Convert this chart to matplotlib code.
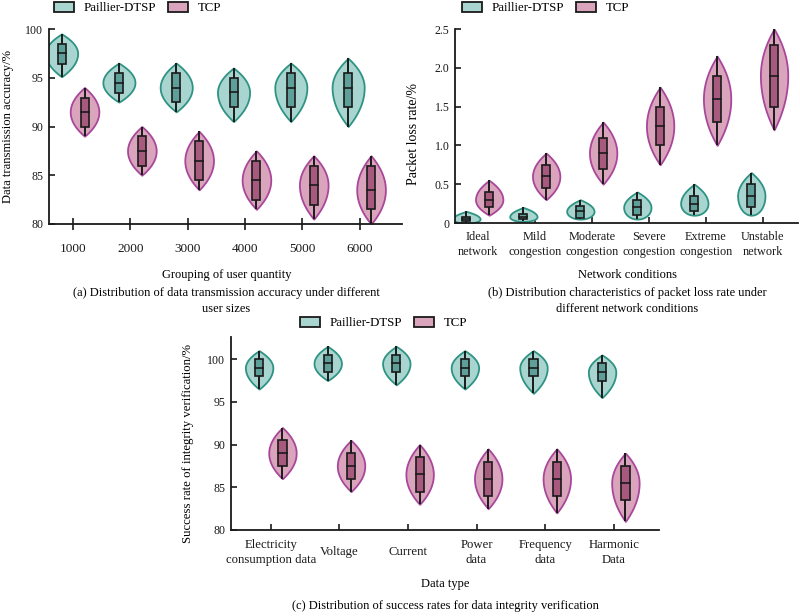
import matplotlib
matplotlib.use("Agg")
import matplotlib.pyplot as plt
import matplotlib.patches as mpatches
import numpy as np

plt.rcParams["font.family"] = ["Liberation Serif", "DejaVu Serif"]
plt.rcParams["font.size"] = 9

# ---------------- data ----------------
# each stat list: [low, q1, median, q3, high]
USERS = ["1000", "2000", "3000", "4000", "5000", "6000"]
A_PAILLIER = [
    [95.1, 96.4, 97.5, 98.5, 99.5],
    [92.5, 93.4, 94.5, 95.5, 96.5],
    [91.5, 92.5, 94.0, 95.5, 96.5],
    [90.5, 92.0, 93.5, 95.0, 96.0],
    [90.5, 92.0, 94.0, 95.5, 96.5],
    [90.0, 92.0, 94.0, 95.5, 97.0],
]
A_TCP = [
    [89.0, 90.0, 91.5, 92.9, 94.0],
    [85.0, 86.0, 87.5, 89.0, 90.0],
    [83.5, 84.5, 86.5, 88.5, 89.5],
    [81.5, 82.5, 84.5, 86.5, 87.5],
    [80.5, 82.0, 84.0, 86.0, 87.0],
    [80.0, 81.5, 83.5, 86.0, 87.0],
]

NETWORK = ["Ideal\nnetwork", "Mild\ncongestion", "Moderate\ncongestion",
           "Severe\ncongestion", "Extreme\ncongestion", "Unstable\nnetwork"]
B_PAILLIER = [
    [0.0, 0.02, 0.05, 0.08, 0.15],
    [0.02, 0.05, 0.08, 0.12, 0.20],
    [0.05, 0.07, 0.15, 0.22, 0.30],
    [0.05, 0.10, 0.20, 0.30, 0.40],
    [0.10, 0.15, 0.25, 0.35, 0.50],
    [0.10, 0.20, 0.35, 0.50, 0.65],
]
B_TCP = [
    [0.10, 0.20, 0.30, 0.40, 0.55],
    [0.30, 0.45, 0.60, 0.75, 0.90],
    [0.50, 0.70, 0.90, 1.10, 1.30],
    [0.75, 1.00, 1.25, 1.50, 1.75],
    [1.00, 1.30, 1.60, 1.90, 2.15],
    [1.20, 1.50, 1.90, 2.30, 2.50],
]

DATA_TYPES = ["Electricity\nconsumption data", "Voltage", "Current",
              "Power\ndata", "Frequency\ndata", "Harmonic\nData"]
C_PAILLIER = [
    [96.5, 98.0, 99.0, 100.0, 101.0],
    [97.5, 98.5, 99.5, 100.5, 101.5],
    [97.0, 98.5, 99.5, 100.5, 101.5],
    [96.5, 98.0, 99.0, 100.0, 101.0],
    [96.0, 98.0, 99.0, 100.0, 101.0],
    [95.5, 97.5, 98.5, 99.5, 100.5],
]
C_TCP = [
    [86.0, 87.5, 89.0, 90.5, 92.0],
    [84.5, 86.0, 87.5, 89.0, 90.5],
    [83.0, 84.5, 86.5, 88.5, 90.0],
    [82.5, 84.0, 86.0, 88.0, 89.5],
    [82.0, 84.0, 86.0, 88.0, 89.5],
    [81.0, 83.5, 85.5, 87.5, 89.0],
]

# ---------------- styles ----------------
P_FILL, P_EDGE, P_BOX = "#a9d5d0", "#2e9383", "#5e9f99"
T_FILL, T_EDGE, T_BOX = "#dba4bd", "#a8479a", "#a85a7e"
INK = "#1a1a1a"
LABEL_FS = 9.0


def violin(ax, x, stats, width, box_w, fill, edge, boxc, round_bottom=False):
    lo, q1, med, q3, hi = stats
    yt = np.linspace(med, hi, 60)
    t = (yt - med) / (hi - med)
    wt = width / 2 * (1 - t ** 2)
    yb = np.linspace(lo, med, 60)
    s = (med - yb) / (med - lo) if med > lo else np.zeros_like(yb)
    if round_bottom:
        wb = width / 2 * np.sqrt(np.clip(1 - s ** 2, 0, 1))
    else:
        wb = width / 2 * (1 - s ** 2)
    ys = np.concatenate([yb, yt[1:]])
    ws = np.concatenate([wb, wt[1:]])
    ax.fill_betweenx(ys, x - ws, x + ws, facecolor=fill, edgecolor=edge,
                     linewidth=1.3, zorder=2)
    ax.plot([x, x], [lo, hi], color=INK, lw=1.4, zorder=3, solid_capstyle="butt")
    ax.add_patch(mpatches.Rectangle((x - box_w / 2, q1), box_w, q3 - q1,
                                    facecolor=boxc, edgecolor=INK, lw=1.2, zorder=4))
    ax.plot([x - box_w / 2, x + box_w / 2], [med, med], color=INK, lw=1.2, zorder=5)


def style_axis(ax, xfs):
    for sp in ("top", "right"):
        ax.spines[sp].set_visible(False)
    for sp in ("left", "bottom"):
        ax.spines[sp].set_linewidth(1.3)
        ax.spines[sp].set_color(INK)
    ax.tick_params(direction="in", length=4, width=1.2, colors=INK)
    ax.tick_params(axis="y", labelsize=8.6, pad=4)
    ax.tick_params(axis="x", labelsize=xfs)


def legend(fig, x, y):
    handles = [
        mpatches.Patch(facecolor=P_FILL, edgecolor=INK, lw=1.3, label="Paillier-DTSP"),
        mpatches.Patch(facecolor=T_FILL, edgecolor=INK, lw=1.3, label="TCP"),
    ]
    fig.legend(handles=handles, loc="center left", bbox_to_anchor=(x, y),
               ncol=2, frameon=False, fontsize=9.3, handlelength=1.55,
               handleheight=0.9, columnspacing=0.9, handletextpad=0.75,
               borderaxespad=0, borderpad=0)


fig = plt.figure(figsize=(8, 6.16), dpi=100)
W, H = 800, 616


def px_axes(l, r, b, t):
    return fig.add_axes([l / W, 1 - b / H, (r - l) / W, (b - t) / H])


# ---- panel (a) ----
ax = px_axes(49, 402, 224, 29)
for i in range(len(USERS)):
    violin(ax, i - 0.2, A_PAILLIER[i], 0.56, 0.14, P_FILL, P_EDGE, P_BOX)
    violin(ax, i + 0.2, A_TCP[i], 0.5, 0.14, T_FILL, T_EDGE, T_BOX)
ax.set_xlim(-0.42, 5.74)
ax.set_ylim(80, 100)
ax.set_yticks([80, 85, 90, 95, 100])
ax.set_xticks(range(len(USERS)))
ax.set_xticklabels(USERS)
style_axis(ax, 9.5)
ax.tick_params(axis="x", direction="inout", length=8, pad=10)
ax.set_ylabel("Data transmission accuracy/%", fontsize=9.1)
ax.yaxis.set_label_coords(-0.1, 0.5)
fig.text(227 / W, 1 - 275 / H, "Grouping of user quantity", ha="center", va="center",
         fontsize=LABEL_FS)
fig.text(226 / W, 1 - 301 / H,
         "(a) Distribution of data transmission accuracy under different\nuser sizes",
         ha="center", va="center", fontsize=LABEL_FS, linespacing=1.35)
legend(fig, 54 / W, 1 - 8 / H)

# ---- panel (b) ----
ax = px_axes(455, 798, 223, 29)
for i in range(len(NETWORK)):
    violin(ax, i - 0.2, B_PAILLIER[i], 0.48, 0.14, P_FILL, P_EDGE, P_BOX, round_bottom=True)
    violin(ax, i + 0.2, B_TCP[i], 0.48, 0.14, T_FILL, T_EDGE, T_BOX)
ax.set_xlim(-0.4, 5.62)
ax.set_ylim(0, 2.5)
ax.set_yticks([0, 0.5, 1.0, 1.5, 2.0, 2.5])
ax.set_yticklabels(["0", "0.5", "1.0", "1.5", "2.0", "2.5"])
ax.set_xticks(range(len(NETWORK)))
ax.set_xticklabels(NETWORK, linespacing=1.3)
style_axis(ax, 8.8)
ax.tick_params(axis="x", pad=6)
ax.set_ylabel("Packet loss rate/%", fontsize=10)
ax.yaxis.set_label_coords(-0.102, 0.46)
fig.text(627 / W, 1 - 275 / H, "Network conditions", ha="center", va="center",
         fontsize=LABEL_FS)
fig.text(627 / W, 1 - 301 / H,
         "(b) Distribution characteristics of packet loss rate under\ndifferent network conditions",
         ha="center", va="center", fontsize=LABEL_FS, linespacing=1.35)
legend(fig, 462 / W, 1 - 8 / H)

# ---- panel (c) ----
ax = px_axes(231, 659, 530, 337)
for i in range(len(DATA_TYPES)):
    violin(ax, i - 0.17, C_PAILLIER[i], 0.4, 0.12, P_FILL, P_EDGE, P_BOX)
    violin(ax, i + 0.17, C_TCP[i], 0.4, 0.12, T_FILL, T_EDGE, T_BOX)
ax.set_xlim(-0.58, 5.66)
ax.set_ylim(80, 102.6)
ax.set_yticks([80, 85, 90, 95, 100])
ax.set_xticks(range(len(DATA_TYPES)))
ax.set_xticklabels(DATA_TYPES, va="center", linespacing=1.3)
style_axis(ax, 9.2)
ax.tick_params(axis="x", pad=16)
ax.set_ylabel("Success rate of integrity verification/%", fontsize=9.2)
ax.yaxis.set_label_coords(-0.087, 0.45)
fig.text(445 / W, 1 - 584 / H, "Data type", ha="center", va="center", fontsize=LABEL_FS)
fig.text(445 / W, 1 - 606 / H, "(c) Distribution of success rates for data integrity verification",
         ha="center", va="center", fontsize=LABEL_FS)
legend(fig, 300 / W, 1 - 323 / H)

fig.savefig("out.png", dpi=100)
